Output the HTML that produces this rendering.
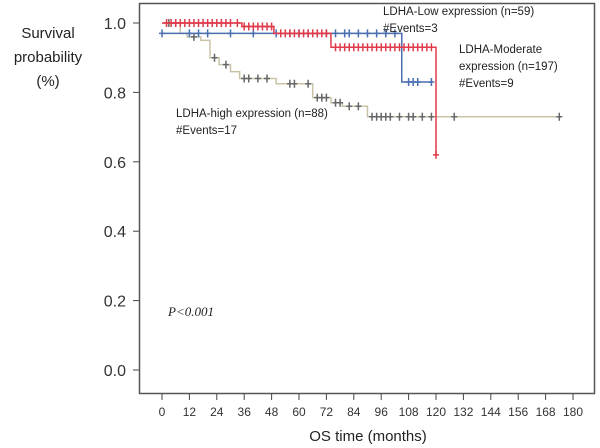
<!DOCTYPE html>
<html><head><meta charset="utf-8"><style>
body{margin:0;background:#fff;}
svg{display:block;font-family:"Liberation Sans",sans-serif;}
</style></head><body>
<svg id="chart" width="600" height="448">
<rect x="139.5" y="3.5" width="455" height="390" fill="none" stroke="#555" stroke-width="1.5"/>
<g id="axes"></g><g id="series"></g>
<text x="48" y="38" font-size="15" text-anchor="middle" fill="#222">Survival</text>
<text x="48" y="62" font-size="15" text-anchor="middle" fill="#222">probability</text>
<text x="48" y="86" font-size="15" text-anchor="middle" fill="#222">(%)</text>
<text x="368" y="441" font-size="15" text-anchor="middle" fill="#222">OS time (months)</text>
<text x="383" y="15" font-size="11.5" fill="#222">LDHA-Low expression (n=59)</text>
<text x="383" y="32" font-size="11.5" fill="#222">#Events=3</text>
<text x="459" y="53" font-size="11.5" fill="#222">LDHA-Moderate</text>
<text x="459" y="70" font-size="11.5" fill="#222">expression (n=197)</text>
<text x="459" y="87" font-size="11.5" fill="#222">#Events=9</text>
<text x="176" y="117" font-size="11.5" fill="#222">LDHA-high expression (n=88)</text>
<text x="176" y="134" font-size="11.5" fill="#222">#Events=17</text>
<text x="168" y="316" font-size="13" font-style="italic" font-family="Liberation Serif,serif" fill="#222">P&lt;0.001</text>
</svg>
<script>
const xTicks=[0,12,24,36,48,60,72,84,96,108,120,132,144,156,168,180];
const yTicks=[0.0,0.2,0.4,0.6,0.8,1.0];
const redTimes=[0,35,49,74,120];
const redSurv=[1.0,0.99,0.97,0.93,0.62];
const redEnd=120;
const redCensor=[2,4,6,8,10,12,14,16,18,20,22,24,26,28,30,33,36,38,40,42,44,46,48,52,54,56,58,60,62,64,66,68,70,72,76,78,80,82,84,86,88,90,92,94,96,98,100,102,104,106,108,110,112,114,116,118,120];
const blueTimes=[0,105];
const blueSurv=[0.97,0.83];
const blueEnd=118;
const blueCensor=[0,12,16,20,30,40,50,56,60,64,68,72,76,80,82,86,90,94,98,102,108,110,112,118];
const grayTimes=[0,8,11,17,21,25,30,34,50,66,74,79,90];
const graySurv=[1.0,0.97,0.96,0.95,0.90,0.88,0.86,0.84,0.825,0.785,0.77,0.76,0.73];
const grayEnd=174;
const grayCensor=[3,6,14,23,28,36,38,42,46,56,58,64,68,70,72,76,78,82,86,92,94,96,98,100,104,108,110,114,118,128,174];
const X=m=>162+m*(411/180);
const Y=v=>370-v*347;
const NS='http://www.w3.org/2000/svg';
const axes=document.getElementById('axes'),series=document.getElementById('series');
function mk(tag,attrs,parent){const e=document.createElementNS(NS,tag);for(const k in attrs)e.setAttribute(k,attrs[k]);parent.appendChild(e);return e;}
xTicks.forEach(t=>{
 const l=mk('line',{x1:X(t),x2:X(t),y1:394,y2:400,stroke:'#444'},axes);
 
 
 const tx=mk('text',{x:X(t),y:416,'font-size':12,'text-anchor':'middle',fill:'#333'},axes);tx.textContent=t;
 
 
});
yTicks.forEach(t=>{
 const l=mk('line',{x1:133,x2:139,y1:Y(t),y2:Y(t),stroke:'#444'},axes);
 
 
 const tx=mk('text',{x:126,y:Y(t)+6,'font-size':16,'text-anchor':'end',fill:'#333'},axes);tx.textContent=t.toFixed(1);
 
 
});
function surv(times,s,t){let v=s[0];for(let i=0;i<times.length;i++)if(times[i]<=t)v=s[i];return v;}
function draw(times,s,end,cens,color,lineColor,name){
 let d='M'+X(times[0])+','+Y(s[0]);
 for(let i=1;i<times.length;i++){d+=' H'+X(times[i])+' V'+Y(s[i]);}
 d+=' H'+X(end);
 const p=mk('path',{d:d,fill:'none',stroke:lineColor,'stroke-width':1.5},series);
 
 
 cens.forEach(t=>{
  const x=X(t),y=Y(surv(times,s,t));
  const c=mk('path',{d:`M${x-3},${y}H${x+3}M${x},${y-4}V${y+4}`,stroke:color,'stroke-width':1.5},series);
  
  
 });
}
draw(grayTimes,graySurv,grayEnd,grayCensor,'#666','#c9c4a8','high');
draw(blueTimes,blueSurv,blueEnd,blueCensor,'#4a6fb0','#4a6fb0','low');
draw(redTimes,redSurv,redEnd,redCensor,'#e03a4a','#e03a4a','moderate');
</script>
</body></html>
